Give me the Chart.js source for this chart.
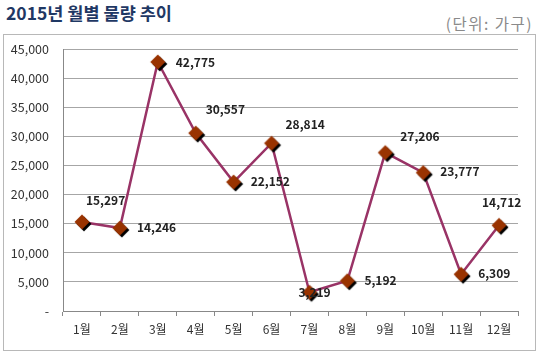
<!DOCTYPE html>
<html>
<head>
<meta charset="utf-8">
<script src="https://cdn.jsdelivr.net/npm/chart.js@4"></script>
<style>
  html, body { margin: 0; padding: 0; background: #fff; }
  body { width: 540px; height: 354px; position: relative; overflow: hidden;
         font-family: 'Noto Sans CJK KR', sans-serif; }
  #title { position: absolute; left: 6px; top: 0px; font-size: 17.5px; font-weight: bold; color: #1f3864; }
  #unit { position: absolute; right: 7px; top: 12px; font-size: 15.5px; letter-spacing: 1.5px; color: #8a8a8a; }
  #box { position: absolute; left: 3px; top: 34px; width: 531px; height: 315px; border: 1px solid #b8b8b8; }
  #chart { position: absolute; left: 0; top: 0; }
</style>
</head>
<body>
<div id="title">2015년 월별 물량 추이</div>
<div id="unit">(단위: 가구)</div>
<div id="box"></div>
<canvas id="chart" width="540" height="354"></canvas>
<script>
// 월별 데이터
const months = ['1월', '2월', '3월', '4월', '5월', '6월', '7월', '8월', '9월', '10월', '11월', '12월'];
const volumes = [15297, 14246, 42775, 30557, 22152, 28814, 3219, 5192, 27206, 23777, 6309, 14712];

// 값 라벨 위치 (점 기준 px)
const labelDx = [4, 17, 18, 10, 17, 14, -11, 17, 15, 17, 17, -17];
const labelDy = [-21, -1, 0, -24, -1, -19, 0, 0, -16, -1, -1, -23];

// 다이아몬드 마커 + 그림자
function makeMarker() {
    const c = document.createElement('canvas');
    c.width = 24; c.height = 24;
    const g = c.getContext('2d');
    const diamond = (cx, cy, r, color) => {
        g.beginPath();
        g.moveTo(cx, cy - r);
        g.lineTo(cx + r, cy);
        g.lineTo(cx, cy + r);
        g.lineTo(cx - r, cy);
        g.closePath();
        g.fillStyle = color;
        g.fill();
    };
    diamond(14, 14, 7.5, '#000000');
    diamond(12, 12, 7.5, '#993300');
    return c;
}

const valueLabels = {
    id: 'valueLabels',
    afterDatasetsDraw(chart) {
        const ctx = chart.ctx;
        const meta = chart.getDatasetMeta(0);
        ctx.save();
        ctx.font = 'bold 12px "Noto Sans CJK KR", sans-serif';
        ctx.fillStyle = '#222';
        ctx.textAlign = 'left';
        ctx.textBaseline = 'middle';
        meta.data.forEach((pt, i) => {
            ctx.fillText(volumes[i].toLocaleString('en-US'), pt.x + labelDx[i], pt.y + labelDy[i]);
        });
        ctx.restore();
    }
};

new Chart(document.getElementById('chart'), {
    type: 'line',
    data: {
        labels: months,
        datasets: [{
            data: volumes,
            borderColor: '#993366',
            borderWidth: 2.5,
            tension: 0,
            pointStyle: makeMarker(),
            pointRadius: 8,
            pointHoverRadius: 8
        }]
    },
    options: {
        responsive: false,
        animation: false,
        events: [],
        layout: { padding: { left: 0, right: 22, top: 49, bottom: 10 } },
        plugins: { legend: { display: false }, tooltip: { enabled: false } },
        scales: {
            x: {
                offset: true,
                afterFit(scale) { scale.height = 33; },
                grid: { drawOnChartArea: false, drawTicks: true, tickLength: 5, color: '#888', offset: true },
                border: { color: '#888' },
                ticks: { color: '#333', padding: 6, font: { size: 12, family: '"Noto Sans CJK KR", sans-serif' } }
            },
            y: {
                min: 0,
                max: 45000,
                afterFit(scale) { scale.width = 63; },
                ticks: {
                    stepSize: 5000,
                    color: '#333',
                    padding: 14,
                    font: { size: 12.5, family: '"Noto Sans CJK KR", sans-serif' },
                    callback: v => v === 0 ? '-' : v.toLocaleString('en-US')
                },
                grid: { color: '#a6a6a6', drawTicks: false },
                border: { color: '#888' }
            }
        }
    },
    plugins: [valueLabels]
});
</script>
</body>
</html>
